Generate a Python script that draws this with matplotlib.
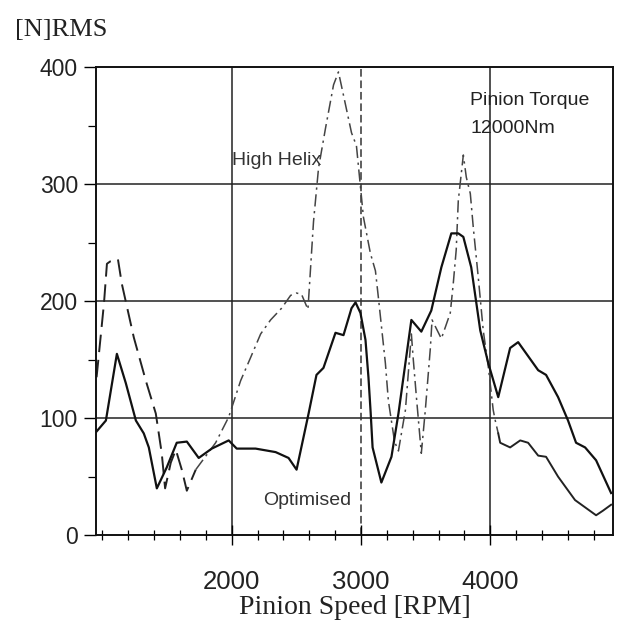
import matplotlib
matplotlib.use("Agg")
import matplotlib.pyplot as plt
import numpy as np
from matplotlib.ticker import MultipleLocator

# data: pinion speed [RPM] vs force [N] RMS
opt_rpm = [950, 1027, 1112, 1181, 1259, 1320, 1359, 1421, 1498, 1575, 1653, 1745,
           1846, 1977, 2039, 2185, 2340, 2440, 2502, 2595, 2656, 2710, 2803, 2865,
           2927, 2958, 2996, 3035, 3058, 3075, 3090, 3158, 3236, 3290, 3390, 3467,
           3544, 3622, 3699, 3753, 3792, 3853, 3923, 3985, 4062, 4154, 4216, 4371,
           4432, 4525, 4602, 4664, 4734, 4819, 4935]
opt_val = [88, 98, 155, 130, 98, 87, 75, 40, 58, 79, 80, 66,
           74, 81, 74, 74, 71, 66, 56, 104, 137, 143, 173, 171,
           194, 199, 190, 167, 135, 105, 75, 45, 67, 104, 184, 174,
           192, 229, 258, 258, 255, 229, 175, 147, 118, 160, 165, 141,
           137, 118, 98, 79, 75, 64, 36]

hh_rpm = [955, 1012, 1035, 1060, 1120, 1150, 1243, 1336, 1413, 1459, 1485, 1529,
          1568, 1614, 1653, 1722, 1876, 1977, 2069, 2147, 2224, 2301, 2386, 2456,
          2500, 2540, 2590, 2633, 2672, 2726, 2788, 2826, 2865, 2927, 2965, 3019,
          3073, 3112, 3135, 3189, 3212, 3260, 3290, 3344, 3390, 3405, 3429, 3467,
          3498, 3537, 3550, 3622, 3691, 3714, 3737, 3753, 3776, 3792, 3815, 3846,
          3869, 3907, 3946, 3985, 4023, 4039, 4062, 4077, 4154, 4232, 4293, 4371,
          4432, 4525, 4656, 4819, 4873, 4935]
hh_val = [135, 198, 232, 234, 236, 215, 169, 132, 104, 70, 40, 62,
          73, 56, 38, 56, 79, 101, 132, 152, 172, 184, 194, 205,
          207, 206, 193, 268, 314, 348, 385, 396, 376, 344, 333, 272,
          241, 226, 203, 147, 115, 80, 72, 107, 172, 150, 118, 70,
          107, 160, 184, 168, 190, 215, 244, 286, 309, 325, 306, 292,
          263, 221, 175, 144, 107, 98, 87, 79, 75, 81, 79, 68,
          67, 50, 30, 17, 21, 26]

hh_rpm = np.array(hh_rpm)
hh_val = np.array(hh_val)

fig = plt.figure(figsize=(6.23, 6.23), dpi=100)
ax = fig.add_axes([0.154, 0.141, 0.830, 0.751])

# grid: horizontal at every 100, vertical at 2000/3000/4000
for yv in [100, 200, 300]:
    ax.axhline(yv, color="#222222", lw=1.1, zorder=1)
ax.axvline(2000, color="#222222", lw=1.1, zorder=1)
ax.axvline(3000, color="#333333", lw=1.1, ls=(0, (5, 2.5)), zorder=1)
ax.axvline(4000, color="#222222", lw=1.1, zorder=1)

# optimised: solid
ax.plot(opt_rpm, opt_val, color="#111111", lw=1.6, zorder=3)

# high helix: long dashes on the left, dash-dot in the middle, solid at the end
m1 = hh_rpm <= 1722
m2 = (hh_rpm >= 1722) & (hh_rpm <= 4062)
m3 = hh_rpm >= 4062
ax.plot(hh_rpm[m1], hh_val[m1], color="#222222", lw=1.4, ls=(0, (9, 4)), zorder=2)
ax.plot(hh_rpm[m2], hh_val[m2], color="#444444", lw=1.1, ls=(0, (8, 3, 1.5, 3)), zorder=2)
ax.plot(hh_rpm[m3], hh_val[m3], color="#222222", lw=1.4, zorder=2)

ax.set_xlim(950, 4950)
ax.set_ylim(0, 400)

ax.set_xticks([2000, 3000, 4000])
ax.xaxis.set_minor_locator(MultipleLocator(200))
ax.set_yticks([0, 100, 200, 300, 400])
ax.yaxis.set_minor_locator(MultipleLocator(50))

sans = ["Liberation Sans", "DejaVu Sans"]
serif = ["Liberation Serif", "DejaVu Serif"]

ax.tick_params(axis="x", which="major", direction="inout", length=14, width=1.0, pad=18)
ax.tick_params(axis="x", which="minor", direction="inout", length=7, width=0.9)
ax.tick_params(axis="y", which="major", direction="out", length=9, width=1.0, pad=4)
ax.tick_params(axis="y", which="minor", direction="out", length=6, width=0.9)
for lab in ax.get_xticklabels():
    lab.set_fontfamily(sans)
    lab.set_fontsize(18.5)
    lab.set_color("#222222")
for lab in ax.get_yticklabels():
    lab.set_fontfamily(sans)
    lab.set_fontsize(16.5)
    lab.set_color("#222222")

for s in ax.spines.values():
    s.set_linewidth(1.4)
    s.set_color("#111111")

ax.set_xlabel("Pinion Speed [RPM]", family=serif, fontsize=20, labelpad=1, color="#222222")
fig.text(0.024, 0.952, "[N]RMS", family=serif, fontsize=19, color="#222222", va="center")

ax.text(2000, 320, "High Helix", family=sans, fontsize=14, color="#333333", va="center")
ax.text(3846, 372, "Pinion Torque", family=sans, fontsize=14, color="#222222", va="center")
ax.text(3846, 348, "12000Nm", family=sans, fontsize=14, color="#222222", va="center")
ax.text(2247, 30, "Optimised", family=sans, fontsize=14, color="#333333", va="center")

fig.savefig("out.png", dpi=100, facecolor="white")
